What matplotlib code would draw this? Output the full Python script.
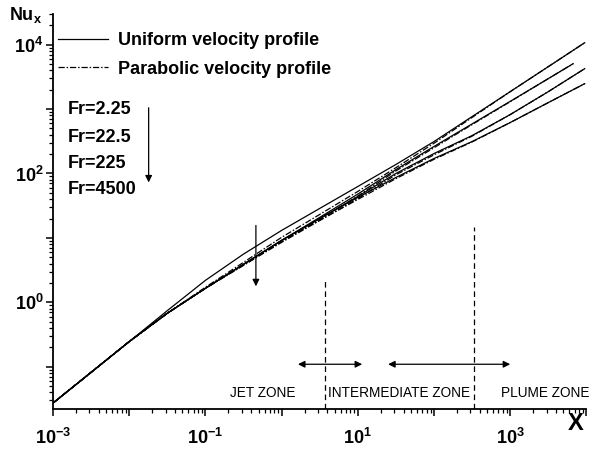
import matplotlib.pyplot as plt
from matplotlib.ticker import LogLocator, NullFormatter

plt.rcParams['font.family'] = ['Liberation Sans', 'DejaVu Sans']
plt.rcParams['mathtext.fontset'] = 'custom'
plt.rcParams['mathtext.rm'] = 'Liberation Sans:bold'
plt.rcParams['mathtext.bf'] = 'Liberation Sans:bold'
plt.rcParams['mathtext.it'] = 'Liberation Sans:bold'
plt.rcParams['mathtext.default'] = 'rm'

x_full = [1e-3, 1e-2, 3.16e-2, 0.1, 0.316, 1, 3.16, 10, 31.6, 100, 316, 1e3, 3.16e3, 9.5e3]
x_short = [1e-3, 1e-2, 3.16e-2, 0.1, 0.316, 1, 3.16, 10, 31.6, 100, 316, 1e3, 3.16e3, 6.7e3]

fr_labels = ['Fr=2.25', 'Fr=22.5', 'Fr=225', 'Fr=4500']

# uniform velocity profile, Nu_x (one list per Fr)
nu_uni_fr1 = [0.0272, 0.245, 0.741, 2.188, 5.600, 13.06, 28.64, 62.81, 138.0, 313.3, 765.6, 1866, 4560, 10740]
nu_uni_fr2 = [0.0272, 0.245, 0.675, 1.648, 3.882, 9.141, 20.80, 47.86, 114.8, 263.0, 588.8, 1318, 2972, 5070]
nu_uni_fr3 = [0.0272, 0.245, 0.675, 1.648, 3.882, 9.141, 19.95, 43.95, 100.0, 204.2, 388.2, 822.2, 1866, 4246]
nu_uni_fr4 = [0.0272, 0.245, 0.675, 1.648, 3.882, 9.141, 19.95, 42.46, 86.70, 171.0, 313.3, 618.0, 1262, 2483]

# parabolic velocity profile, Nu_x
nu_par_fr1 = [0.0272, 0.245, 0.675, 1.710, 4.169, 10.19, 23.12, 52.60, 123.0, 295.1, 741.3, 1866, 4560, 10740]
nu_par_fr2 = [0.0272, 0.245, 0.675, 1.648, 3.882, 8.831, 19.36, 44.67, 109.6, 251.2, 575.4, 1306, 2972, 5070]
nu_par_fr3 = [0.0272, 0.245, 0.675, 1.648, 3.750, 8.831, 18.66, 40.93, 95.50, 195.0, 380.2, 822.2, 1866, 4246]
nu_par_fr4 = [0.0272, 0.245, 0.675, 1.648, 3.750, 8.511, 18.66, 39.54, 83.18, 166.0, 309.0, 618.0, 1262, 2483]

nu_uni = [nu_uni_fr1, nu_uni_fr2, nu_uni_fr3, nu_uni_fr4]
nu_par = [nu_par_fr1, nu_par_fr2, nu_par_fr3, nu_par_fr4]
x_of_curve = [x_full, x_short, x_full, x_full]

# zone boundaries and zone arrows
zone_bounds = [3.72, 335]
zone_bound_tops = [2.19, 14.5]
zone_arrows = [(1.64, 11.4), (25, 1000)]
zone_names = ['JET ZONE', 'INTERMEDIATE ZONE', 'PLUME ZONE']
zone_name_x = [0.21, 4.06, 757]

fig = plt.figure(figsize=(5.89, 4.49), dpi=100)
ax = fig.add_axes([53 / 589, 40 / 449, 533.4 / 589, 395 / 449])

dashdot = (0, (5, 1.5, 1.2, 1.5))
for i in range(4):
    l_uni, = ax.plot(x_of_curve[i], nu_uni[i], color='black', lw=0.9)
    l_par, = ax.plot(x_of_curve[i], nu_par[i], color='black', lw=0.9,
                     linestyle=dashdot)
    if i == 0:
        h_uni, h_par = l_uni, l_par

ax.set_xscale('log')
ax.set_yscale('log')
ax.set_xlim(1e-3, 1e4)
ax.set_ylim(0.022, 3e4)

for s in ['top', 'right']:
    ax.spines[s].set_visible(False)
for s in ['left', 'bottom']:
    ax.spines[s].set_linewidth(1.3)

xt = [1e-3, 1e-2, 1e-1, 1, 1e1, 1e2, 1e3, 1e4]
ax.set_xticks(xt)
ax.set_xticklabels(['$10^{-3}$', '', '$10^{-1}$', '', '$10^{1}$', '', '$10^{3}$', ''])
yt = [1e-1, 1, 1e1, 1e2, 1e3, 1e4]
ax.set_yticks(yt)
ax.set_yticklabels(['', '$10^{0}$', '', '$10^{2}$', '', '$10^{4}$'])
for axis in [ax.xaxis, ax.yaxis]:
    axis.set_minor_locator(LogLocator(base=10, subs=range(2, 10), numticks=50))
    axis.set_minor_formatter(NullFormatter())
ax.tick_params(which='major', direction='out', length=5, width=1.1, labelsize=13)
ax.tick_params(which='minor', direction='out', length=3, width=0.9)
ax.tick_params(axis='x', which='major', pad=8.5)
ax.tick_params(axis='y', which='major', pad=2)

# zone boundaries
for xb, top in zip(zone_bounds, zone_bound_tops):
    ax.plot([xb, xb], [0.022, top], color='black', lw=0.9, linestyle=(0, (4.5, 3)))

for x0, x1 in zone_arrows:
    ax.annotate('', xy=(x0, 0.109), xytext=(x1, 0.109),
                arrowprops=dict(arrowstyle='<|-|>', color='black', lw=0.9,
                                mutation_scale=10, shrinkA=0, shrinkB=0))

for name, xn in zip(zone_names, zone_name_x):
    ax.text(xn, 0.0388, name, fontsize=9.8, ha='left', va='center')

# Fr arrow in the jet zone
ax.annotate('', xy=(0.46, 1.77), xytext=(0.46, 15.6),
            arrowprops=dict(arrowstyle='-|>', color='black', lw=0.9,
                            mutation_scale=10, shrinkA=0, shrinkB=0))

# Fr list with arrow
fr_y = [110, 137, 163, 190]
for lab, py in zip(fr_labels, fr_y):
    fig.text(68 / 589, (449 - py) / 449, lab, fontsize=13, fontweight='bold',
             ha='left', va='center')
ax.annotate('', xy=(0.018, 72.6), xytext=(0.018, 1050),
            arrowprops=dict(arrowstyle='-|>', color='black', lw=0.9,
                            mutation_scale=10, shrinkA=0, shrinkB=0))

ax.legend([h_uni, h_par], ['Uniform velocity profile', 'Parabolic velocity profile'],
          loc='upper left', bbox_to_anchor=(58 / 589, 0.928),
          bbox_transform=fig.transFigure, frameon=False, borderpad=0,
          borderaxespad=0, handlelength=2.77, handletextpad=0.55,
          labelspacing=0.62, prop=dict(size=13, weight='bold'))

fig.text(9 / 589, (449 - 20) / 449, 'Nu$_{x}$', fontsize=13, fontweight='bold',
         ha='left', va='baseline')
fig.text(568 / 589, (449 - 430) / 449, 'X', fontsize=17, fontweight='bold',
         ha='left', va='baseline')

fig.savefig('out.png', dpi=100)
